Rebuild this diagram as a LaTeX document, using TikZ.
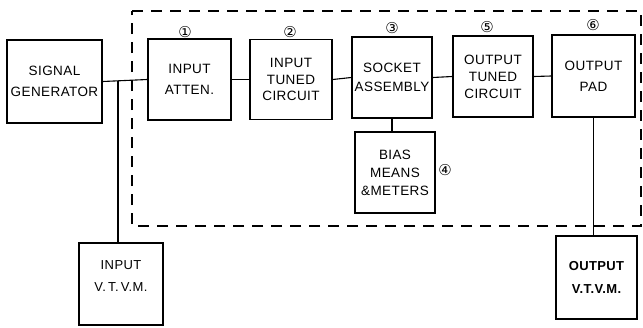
\documentclass[tikz,border=0pt]{standalone}
\usepackage{fontspec}
\setmainfont{Liberation Sans}[LetterSpace=3]
\newfontfamily\circfont{DejaVu Sans}
\begin{document}
\begin{tikzpicture}[x=1pt,y=-1pt,
  blk/.style={draw, line width=1.5pt, align=center, inner sep=0pt,
    font=\fontsize{13.5}{20}\selectfont},
  conn/.style={line width=1.1pt},
  frame/.style={line width=1.3pt, dash pattern=on 11pt off 8pt},
  num/.style={font=\circfont\fontsize{15}{15}\selectfont, inner sep=0pt}]
\useasboundingbox (0,0) rectangle (643,327);
\fill[white] (0,0) rectangle (643,327);
% dashed enclosure
\draw[frame] (132,11) -- (641,11) -- (641,226) -- (132,226) -- cycle;
% blocks
\node[blk, minimum width=95pt, minimum height=83pt] (sg) at (54.5,81.5)
  {SIGNAL\\[1pt]GENERATOR};
\node[blk, minimum width=83pt, minimum height=81pt] (att) at (189.5,79.5)
  {INPUT\\[1pt]ATTEN.};
\node[blk, minimum width=82pt, minimum height=80pt, font=\fontsize{13.5}{16.5}\selectfont] (itc) at (291,79.5)
  {INPUT\\TUNED\\CIRCUIT};
\node[blk, minimum width=80pt, minimum height=81pt, font=\fontsize{13.5}{19}\selectfont] (sock) at (392,77.5)
  {SOCKET\\ASSEMBLY};
\node[blk, minimum width=80pt, minimum height=81pt, font=\fontsize{13.5}{17}\selectfont] (otc) at (493,76.5)
  {OUTPUT\\TUNED\\CIRCUIT};
\node[blk, minimum width=83pt, minimum height=82pt, font=\fontsize{13.5}{21}\selectfont] (pad) at (593.5,76)
  {OUTPUT\\PAD};
\node[blk, minimum width=80pt, minimum height=81pt, font=\fontsize{13.5}{18}\selectfont] (bias) at (395,172.5)
  {BIAS\\MEANS\\\&METERS};
\node[blk, minimum width=84pt, minimum height=82pt, font=\fontsize{13}{22}\selectfont] (ivt) at (121,284)
  {INPUT\\V.\,T.\,V.M.\\[-6pt]};
\node[blk, minimum width=81pt, minimum height=83pt, font=\bfseries\fontsize{13}{23}\selectfont] (ovt) at (596.5,277.5)
  {OUTPUT\\V.T.V.M.};
% numbers
\node[num] (n1) at (185,32) {①};
\node[num] (n2) at (290,32) {②};
\node[num] (n3) at (392,28) {③};
\node[num] (n5) at (487,27) {⑤};
\node[num] (n6) at (593,25) {⑥};
\node[num] (n4) at (445,170) {④};
% connectors
\draw[conn] (sg.east) -- (att.west);
\coordinate (j) at (118,81);
\draw[conn] (j) -- (j |- ivt.north);
\draw[conn] (att.east) -- (itc.west);
\draw[conn] (itc.east) -- (sock.west);
\draw[conn] (sock.east) -- (otc.west);
\draw[conn] (otc.east) -- (pad.west);
\draw[conn] (sock.south) -- (sock.south |- bias.north);
\draw[conn] (pad.south) -- (pad.south |- ovt.north);
\end{tikzpicture}
\end{document}
